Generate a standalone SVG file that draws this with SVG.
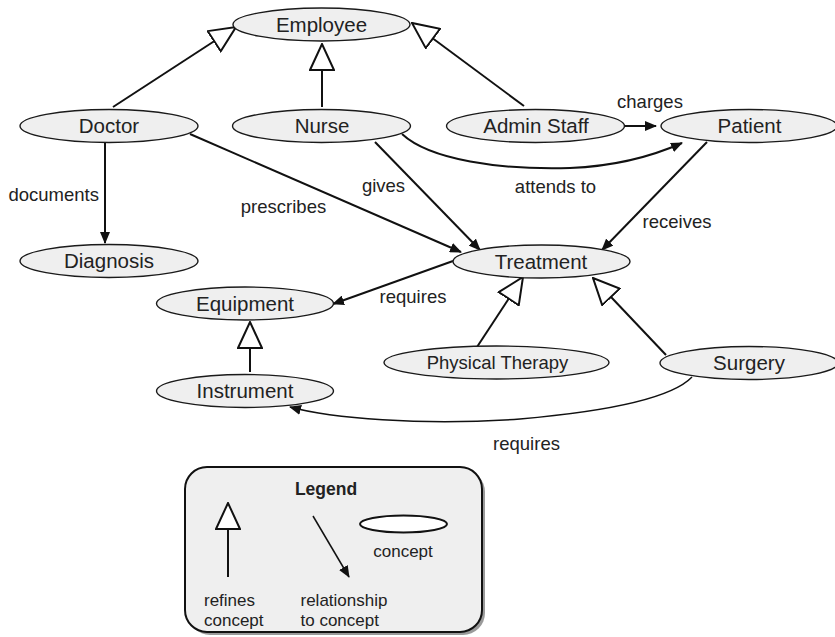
<svg xmlns="http://www.w3.org/2000/svg" width="835" height="637" viewBox="0 0 835 637">
  <style>
    .node ellipse { fill: #efefef; stroke: #1a1a1a; stroke-width: 1.4; }
    .node text { font-family: "Liberation Sans", Arial, sans-serif; font-size: 20.5px; fill: #222; text-anchor: middle; }
    .node text.small { font-size: 18.5px; }
    .edge { fill: none; stroke: #111; stroke-width: 2; }
    .thin { stroke-width: 1.5; }
    .lbl { font-family: "Liberation Sans", Arial, sans-serif; font-size: 18.5px; fill: #222; }
    .leg { font-family: "Liberation Sans", Arial, sans-serif; font-size: 17px; fill: #222; }
  </style>
  <defs>
    <marker id="refine" viewBox="0 0 28 26" refX="27" refY="13" markerWidth="28" markerHeight="26" markerUnits="userSpaceOnUse" orient="auto">
      <path d="M1,1 L27,13 L1,25 z" fill="#fff" stroke="#111" stroke-width="2" stroke-linejoin="miter"/>
    </marker>
    <marker id="arrow" viewBox="0 0 12 10" refX="11" refY="5" markerWidth="12" markerHeight="10" markerUnits="userSpaceOnUse" orient="auto">
      <path d="M0,0 L12,5 L0,10 z" fill="#111"/>
    </marker>
  </defs>
  <rect width="835" height="637" fill="#fff"/>

  <!-- connectors -->
  <g id="connectors">
    <!-- refinements -->
    <line class="edge" x1="113" y1="107" x2="236" y2="27" marker-end="url(#refine)"/>
    <line class="edge" x1="322" y1="107" x2="322" y2="44" marker-end="url(#refine)"/>
    <line class="edge" x1="524" y1="106" x2="412" y2="23" marker-end="url(#refine)"/>
    <line class="edge" x1="250" y1="372" x2="250" y2="322" marker-end="url(#refine)"/>
    <line class="edge" x1="477" y1="347" x2="523" y2="277" marker-end="url(#refine)"/>
    <line class="edge" x1="666" y1="355" x2="593" y2="278" marker-end="url(#refine)"/>
    <!-- relationships -->
    <line class="edge" x1="105" y1="142" x2="105" y2="243" marker-end="url(#arrow)"/>
    <line class="edge" x1="190" y1="134" x2="461" y2="252" marker-end="url(#arrow)"/>
    <line class="edge" x1="375" y1="142" x2="480" y2="250" marker-end="url(#arrow)"/>
    <line class="edge" x1="707" y1="142" x2="602" y2="250" marker-end="url(#arrow)"/>
    <line class="edge" x1="624" y1="126" x2="656" y2="126" marker-end="url(#arrow)"/>
    <line class="edge" x1="453" y1="261" x2="333" y2="304" marker-end="url(#arrow)"/>
    <path class="edge" d="M402,134 C430,160 500,170 570,168 C620,166 655,155 682,143" marker-end="url(#arrow)"/>
    <path class="edge thin" d="M692,377 C670,400 600,412 520,419 C420,426 330,418 290,407" marker-end="url(#arrow)"/>
    <!-- labels -->
    <text class="lbl" x="99" y="201" text-anchor="end">documents</text>
    <text class="lbl" x="283.5" y="213" text-anchor="middle">prescribes</text>
    <text class="lbl" x="383.5" y="192" text-anchor="middle">gives</text>
    <text class="lbl" x="555.5" y="193" text-anchor="middle">attends to</text>
    <text class="lbl" x="650" y="108" text-anchor="middle">charges</text>
    <text class="lbl" x="677" y="228" text-anchor="middle">receives</text>
    <text class="lbl" x="413" y="303" text-anchor="middle">requires</text>
    <text class="lbl" x="526.5" y="450" text-anchor="middle">requires</text>
  </g>

  <!-- concepts -->
  <g id="employee" class="node"><ellipse cx="321.5" cy="24.5" rx="88.5" ry="16.5"/><text x="321.5" y="31.5">Employee</text></g>
  <g id="doctor" class="node"><ellipse cx="109" cy="126" rx="89" ry="16.5"/><text x="109" y="133">Doctor</text></g>
  <g id="nurse" class="node"><ellipse cx="321.5" cy="126" rx="89" ry="16.5"/><text x="322" y="133">Nurse</text></g>
  <g id="admin-staff" class="node"><ellipse cx="535.5" cy="126" rx="89" ry="16.5"/><text x="536" y="133">Admin Staff</text></g>
  <g id="patient" class="node"><ellipse cx="749" cy="126" rx="88" ry="16.5"/><text x="749.5" y="133">Patient</text></g>
  <g id="diagnosis" class="node"><ellipse cx="109" cy="261" rx="89" ry="16.5"/><text x="109" y="268">Diagnosis</text></g>
  <g id="treatment" class="node"><ellipse cx="541.5" cy="261.5" rx="88.5" ry="16.5"/><text x="541" y="268.5">Treatment</text></g>
  <g id="equipment" class="node"><ellipse cx="245" cy="303.5" rx="88.5" ry="16.5"/><text x="245" y="310.5">Equipment</text></g>
  <g id="instrument" class="node"><ellipse cx="245" cy="391" rx="88.5" ry="16.5"/><text x="245" y="398">Instrument</text></g>
  <g id="physical-therapy" class="node"><ellipse cx="496.5" cy="362.5" rx="112.5" ry="16.5"/><text class="small" x="497.5" y="369">Physical Therapy</text></g>
  <g id="surgery" class="node"><ellipse cx="749" cy="363" rx="89" ry="16.5"/><text x="749" y="370">Surgery</text></g>

  <!-- legend -->
  <g id="legend">
    <rect x="188" y="470" width="297" height="165" rx="22" fill="#9a9a9a"/>
    <rect x="185" y="467" width="297" height="165" rx="22" fill="#efefef" stroke="#111" stroke-width="2"/>
    <text x="326" y="495" text-anchor="middle" font-family="Liberation Sans, Arial, sans-serif" font-size="17.5px" font-weight="bold" fill="#222">Legend</text>
    <line class="edge" x1="228" y1="577" x2="228" y2="503" marker-end="url(#refine)"/>
    <line x1="313" y1="516" x2="349" y2="577" stroke="#111" stroke-width="1.5" marker-end="url(#arrow)"/>
    <ellipse cx="403.5" cy="524" rx="43.5" ry="8.5" fill="#fff" stroke="#111" stroke-width="2"/>
    <text class="leg" x="403" y="556.5" text-anchor="middle">concept</text>
    <text class="leg" x="204" y="605.5">refines</text>
    <text class="leg" x="204" y="625.5">concept</text>
    <text class="leg" x="300.5" y="605.5">relationship</text>
    <text class="leg" x="300.5" y="625.5">to concept</text>
  </g>
</svg>
